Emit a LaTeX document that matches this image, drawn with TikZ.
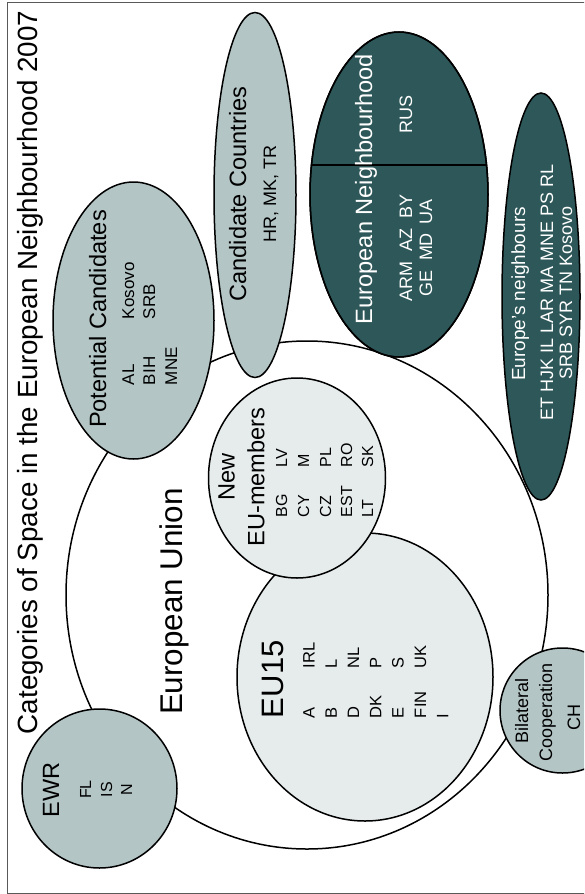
\documentclass[tikz,border=0pt]{standalone}
\usepackage{fontspec}
\setmainfont{Liberation Sans}
\definecolor{midfill}{RGB}{180,197,197}
\definecolor{palefill}{RGB}{230,236,236}
\definecolor{darkfill}{RGB}{46,87,89}
\newcommand\fsz[1]{\fontsize{#1}{#1}\selectfont}
\tikzset{
  lbl/.style={rotate=90, inner sep=0pt, outer sep=0pt, anchor=base},
  lblw/.style={rotate=90, inner sep=0pt, outer sep=0pt, anchor=base west},
  shapeline/.style={draw=black, line width=1.5pt},
  framestyle/.style={draw=gray!70!black, line width=1pt}
}
\begin{document}
\begin{tikzpicture}[x=1pt,y=-1pt]
\useasboundingbox (0,0) rectangle (584,894);
\clip (0,0) rectangle (584,894);
\fill[white] (0,0) rectangle (584,894);
% frame
\draw[framestyle] (590,2) -- (7,2) -- (7,893) -- (590,893);

% European Union (big circle)
\path[shapeline, fill=white] (307,595) ellipse [x radius=241, y radius=254];
% EU15
\path[shapeline, fill=palefill] (365,677) ellipse [x radius=128, y radius=144];
% New EU members
\path[shapeline, fill=palefill] (297,478) ellipse [x radius=88.5, y radius=100];
% EWR
\path[shapeline, fill=midfill] (99.5,788.5) ellipse [x radius=77.5, y radius=79.5];
% Potential Candidates
\path[shapeline, fill=midfill] (133.5,320.5) ellipse [x radius=80.5, y radius=138.5];
% Candidate Countries
\path[shapeline, fill=midfill] (255,195) ellipse [x radius=41, y radius=182.5];
% European Neighbourhood
\path[shapeline, fill=darkfill] (399,194.5) ellipse [x radius=89, y radius=162.5];
\begin{scope}
  \clip (399,194.5) ellipse [x radius=89, y radius=162.5];
  \draw[line width=1.4pt] (300,165) -- (500,165);
\end{scope}
\path[shapeline] (399,194.5) ellipse [x radius=89, y radius=162.5];
% Europe's neighbours
\path[shapeline, fill=darkfill] (541,296.5) ellipse [x radius=39, y radius=203.5];
% Bilateral Cooperation
\path[shapeline, fill=midfill] (562.5,710.5) ellipse [x radius=62.5, y radius=62.5];

% Title
\node[lbl, font=\fsz{27.8}] (title) at (37,372.5) {Categories of Space in the European Neighbourhood 2007};
% European Union
\node[lbl, font=\fsz{31.4}] (eulab) at (182.5,601.5) {European Union};

% EWR
\node[lbl, font=\fsz{23.5}] (ewr) at (59,790) {EWR};
\node[lbl, font=\fsz{16}] (fl) at (91,789.5) {FL};
\node[lbl, font=\fsz{16}] (is) at (112,789.5) {IS};
\node[lbl, font=\fsz{16}] (n) at (132,789.5) {N};

% EU15
\node[lblw, font=\fsz{31}] (eu15) at (283,718) {EU15};
\node[lblw, font=\fsz{16.5}] (c1a) at (314.5,718) {A};
\node[lblw, font=\fsz{16.5}] (c1b) at (336.8,718) {B};
\node[lblw, font=\fsz{16.5}] (c1c) at (359.1,718) {D};
\node[lblw, font=\fsz{16.5}] (c1d) at (381.4,718) {DK};
\node[lblw, font=\fsz{16.5}] (c1e) at (403.7,718) {E};
\node[lblw, font=\fsz{16.5}] (c1f) at (426,718) {FIN};
\node[lblw, font=\fsz{16.5}] (c1g) at (448.3,718) {I};
\node[lblw, font=\fsz{16.5}] (c2a) at (314.5,668) {IRL};
\node[lblw, font=\fsz{16.5}] (c2b) at (336.8,668) {L};
\node[lblw, font=\fsz{16.5}] (c2c) at (359.1,668) {NL};
\node[lblw, font=\fsz{16.5}] (c2d) at (381.4,668) {P};
\node[lblw, font=\fsz{16.5}] (c2e) at (403.7,668) {S};
\node[lblw, font=\fsz{16.5}] (c2f) at (426,668) {UK};

% New EU-members
\node[lbl, font=\fsz{23.6}] (new) at (234.6,477) {New};
\node[lbl, font=\fsz{23.6}] (eum) at (264.4,477) {EU-members};
\node[lblw, font=\fsz{16}] (n1a) at (287,517) {BG};
\node[lblw, font=\fsz{16}] (n1b) at (309,517) {CY};
\node[lblw, font=\fsz{16}] (n1c) at (331,517) {CZ};
\node[lblw, font=\fsz{16}] (n1d) at (352,517) {EST};
\node[lblw, font=\fsz{16}] (n1e) at (373,517) {LT};
\node[lblw, font=\fsz{16}] (n2a) at (287,467) {LV};
\node[lblw, font=\fsz{16}] (n2b) at (309,467) {M};
\node[lblw, font=\fsz{16}] (n2c) at (331,467) {PL};
\node[lblw, font=\fsz{16}] (n2d) at (352,467) {RO};
\node[lblw, font=\fsz{16}] (n2e) at (373,467) {SK};

% Potential Candidates
\node[lbl, font=\fsz{23.6}] (pc) at (106,319) {Potential Candidates};
\node[lblw, font=\fsz{17}] (p1a) at (134,385) {AL};
\node[lblw, font=\fsz{17}] (p1b) at (155,385) {BIH};
\node[lblw, font=\fsz{17}] (p1c) at (177,385) {MNE};
\node[lblw, font=\fsz{17}] (p2a) at (134,319) {Kosovo};
\node[lblw, font=\fsz{17}] (p2b) at (155,319) {SRB};

% Candidate Countries
\node[lbl, font=\fsz{23.6}] (cc) at (246,194) {Candidate Countries};
\node[lbl, font=\fsz{18}] (ccl) at (276,193.5) {HR, MK, TR};

% European Neighbourhood
\node[lbl, font=\fsz{23.6}, text=white] (en) at (372,189) {European Neighbourhood};
\node[lbl, font=\fsz{18}, text=white] (rus) at (412,114) {RUS};
\node[lbl, font=\fsz{18}, text=white] (arm) at (412,248) {ARM\hspace{10pt}AZ\hspace{10pt}BY};
\node[lbl, font=\fsz{18}, text=white] (ge) at (432,247.5) {GE\hspace{9pt}MD\hspace{9pt}UA};

% Europe's neighbours
\node[lbl, font=\fsz{19}, text=white] (enb) at (525,294) {Europe's neighbours};
\node[lbl, font=\fsz{18}, text=white] (enb1) at (553,292) {ET HJK IL LAR MA MNE PS RL};
\node[lbl, font=\fsz{18}, text=white] (enb2) at (572,293) {SRB SYR TN Kosovo};

% Bilateral Cooperation
\node[lbl, font=\fsz{18}] (bil) at (528,710.5) {Bilateral};
\node[lbl, font=\fsz{18}] (coop) at (552,712) {Cooperation};
\node[lbl, font=\fsz{18}] (ch) at (580,717.5) {CH};
\end{tikzpicture}
\end{document}
